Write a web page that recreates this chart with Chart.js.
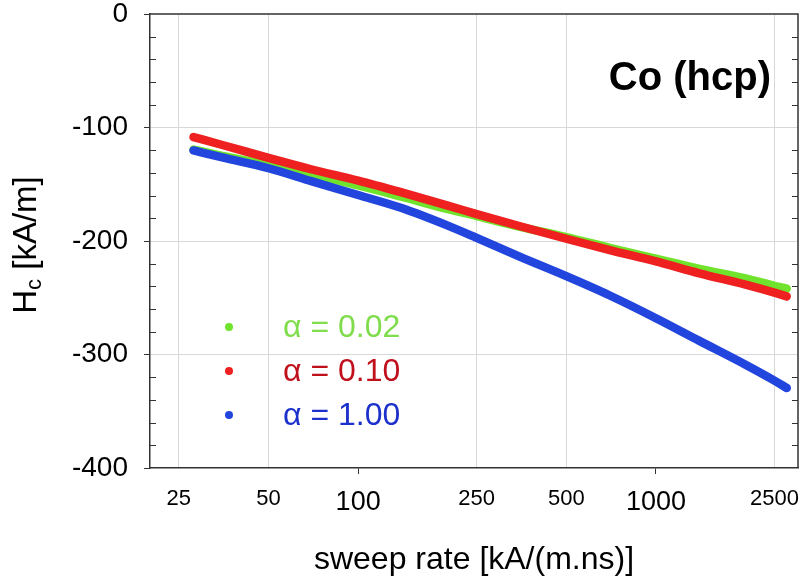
<!DOCTYPE html>
<html>
<head>
<meta charset="utf-8">
<script src="https://cdn.jsdelivr.net/npm/chart.js@4.4.0/dist/chart.umd.min.js"></script>
<style>
    body { margin: 0; background: #fff; }
    canvas { display: block; }
</style>
</head>
<body>
<canvas id="myChart" width="801" height="579"></canvas>
<script>
// sweep rate [kA/(m.ns)]
const sweepRate = [28, 35, 50, 70, 100, 140, 200, 250, 350, 500, 700, 1000, 1400, 2000, 2500, 2750];

// coercive field Hc [kA/m]
const hcAlpha002 = [-119.5, -125, -133, -141.5, -151, -161, -172, -178, -187.5, -196.5, -206, -215.5, -224.5, -233, -239.5, -242];
const hcAlpha010 = [-108.4, -115.4, -126.8, -137, -146.8, -157.2, -168.8, -176.3, -187, -198, -208, -218, -228.5, -238.5, -245.5, -248.8];
const hcAlpha100 = [-120.2, -126.4, -135.9, -147.5, -159.5, -171, -186.5, -197.3, -214, -231, -248, -268, -288, -309, -323, -329.5];

const seriesLabels = ['α = 0.02', 'α = 0.10', 'α = 1.00'];
const rateTicks = [25, 50, 100, 250, 500, 1000, 2500];
const decadeTicks = [100, 1000];

const FONT = "'Liberation Sans', Arial, sans-serif";
const lineColors = ['#70e42c', '#ee2020', '#2245de'];
const textColors = ['#7fdc4a', '#c0101c', '#1c30cc'];

function toPoints(ys) {
    return sweepRate.map((x, i) => ({x: x, y: ys[i]}));
}

const isDecade = v => decadeTicks.includes(v);

// frame, minor ticks, legend, annotation and y title
const decorations = {
    id: 'decorations',
    afterDraw(chart) {
        const ctx = chart.ctx;
        const a = chart.chartArea;
        const yS = chart.scales.y;

        ctx.save();
        ctx.strokeStyle = '#333';
        ctx.lineWidth = 1.5;
        ctx.beginPath();
        ctx.moveTo(a.left, a.top);
        ctx.lineTo(a.right, a.top);
        ctx.lineTo(a.right, a.bottom);
        ctx.stroke();

        // minor ticks inside
        ctx.lineWidth = 1;
        ctx.beginPath();
        for (let v = -380; v < 0; v += 20) {
            if (v % 100 === 0) continue;
            const y = Math.round(yS.getPixelForValue(v)) + 0.5;
            ctx.moveTo(a.left, y);
            ctx.lineTo(a.left + 6, y);
            ctx.moveTo(a.right, y);
            ctx.lineTo(a.right - 6, y);
        }
        ctx.stroke();

        // Co (hcp)
        ctx.fillStyle = '#000';
        ctx.font = 'bold 40px ' + FONT;
        ctx.textAlign = 'right';
        ctx.textBaseline = 'alphabetic';
        ctx.fillText('Co (hcp)', a.right - 27, 90);

        // legend
        ctx.font = '32px ' + FONT;
        ctx.textAlign = 'left';
        ctx.textBaseline = 'middle';
        chart.data.datasets.forEach((ds, i) => {
            const y = a.top + 313 + i * 44;
            ctx.fillStyle = ds.borderColor;
            ctx.beginPath();
            ctx.arc(a.left + 79, y, 4, 0, Math.PI * 2);
            ctx.fill();
            ctx.fillStyle = textColors[i];
            ctx.fillText(ds.label, a.left + 133, y + 1);
        });

        // y title with subscript
        ctx.translate(36, 245);
        ctx.rotate(-Math.PI / 2);
        ctx.fillStyle = '#000';
        ctx.textBaseline = 'alphabetic';
        ctx.font = '33px ' + FONT;
        const wH = ctx.measureText('H').width;
        const wRest = ctx.measureText(' [kA/m]').width;
        ctx.font = '22px ' + FONT;
        const wC = ctx.measureText('c').width;
        let x = -(wH + wC + wRest) / 2;
        ctx.font = '33px ' + FONT;
        ctx.fillText('H', x, 0);
        x += wH;
        ctx.font = '22px ' + FONT;
        ctx.fillText('c', x, 5);
        x += wC;
        ctx.font = '33px ' + FONT;
        ctx.fillText(' [kA/m]', x, 0);
        ctx.restore();
    }
};

const ctx = document.getElementById('myChart').getContext('2d');

const chart = new Chart(ctx, {
    type: 'line',
    data: {
        datasets: [
            {
                label: seriesLabels[0],
                data: toPoints(hcAlpha002),
                borderColor: lineColors[0],
                order: 3
            },
            {
                label: seriesLabels[1],
                data: toPoints(hcAlpha010),
                borderColor: lineColors[1],
                order: 2
            },
            {
                label: seriesLabels[2],
                data: toPoints(hcAlpha100),
                borderColor: lineColors[2],
                order: 1
            }
        ]
    },
    options: {
        responsive: false,
        animation: false,
        layout: { padding: { top: 14, right: 3, left: 0, bottom: 0 } },
        elements: {
            line: {
                borderWidth: 8.5,
                borderCapStyle: 'round',
                borderJoinStyle: 'round',
                cubicInterpolationMode: 'monotone'
            },
            point: { radius: 0 }
        },
        plugins: {
            legend: { display: false },
            tooltip: { enabled: false }
        },
        scales: {
            x: {
                type: 'logarithmic',
                min: 20,
                max: 3000,
                bounds: 'data',
                afterBuildTicks: s => { s.ticks = rateTicks.map(v => ({value: v})); },
                afterFit: s => {
                    s.height = 111;
                    s.paddingLeft = 0;
                    s.paddingRight = 0;
                },
                border: { color: '#333', width: 1.5 },
                grid: {
                    color: c => (c.tick && !isDecade(c.tick.value)) ? '#d8d8d8' : 'rgba(0,0,0,0)',
                    tickColor: c => (c.tick && isDecade(c.tick.value)) ? '#333' : 'rgba(0,0,0,0)',
                    tickLength: 6
                },
                ticks: {
                    autoSkip: false,
                    maxRotation: 0,
                    padding: 12,
                    color: '#000',
                    font: c => ({ family: FONT, size: (c.tick && isDecade(c.tick.value)) ? 27 : 22 }),
                    callback: v => String(v)
                },
                title: {
                    display: true,
                    text: 'sweep rate [kA/(m.ns)]',
                    color: '#000',
                    font: { family: FONT, size: 32 },
                    padding: { top: 0, bottom: 0 }
                }
            },
            y: {
                min: -400,
                max: 0,
                afterFit: s => {
                    s.width = 150;
                    s.paddingTop = 0;
                    s.paddingBottom = 0;
                },
                border: { color: '#333', width: 1.5 },
                grid: {
                    color: c => (c.tick && c.tick.value !== 0 && c.tick.value !== -400) ? '#d8d8d8' : 'rgba(0,0,0,0)',
                    tickColor: '#333',
                    tickLength: 6
                },
                ticks: {
                    stepSize: 100,
                    padding: 16,
                    color: '#000',
                    font: { family: FONT, size: 28 }
                }
            }
        }
    },
    plugins: [decorations]
});
</script>
</body>
</html>
